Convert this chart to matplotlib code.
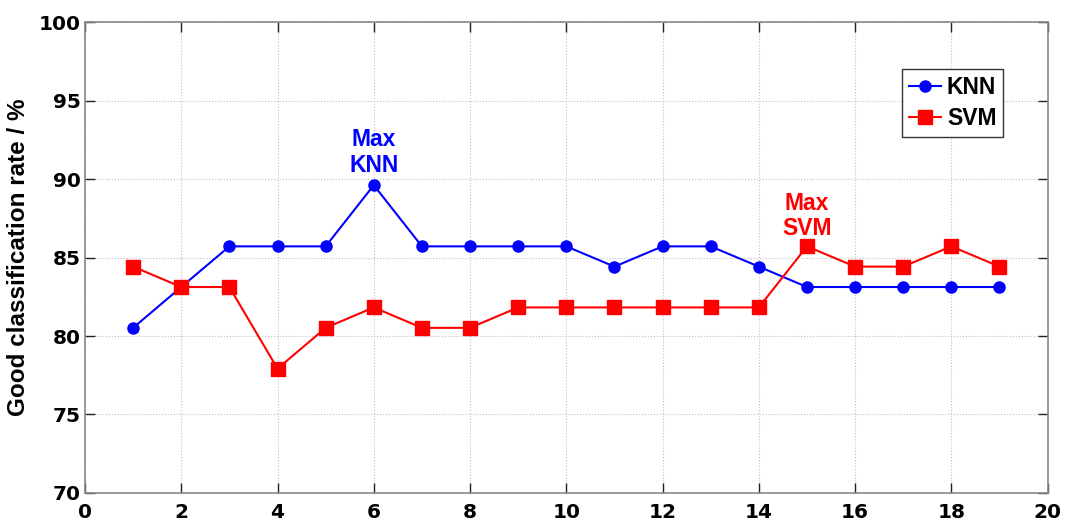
import matplotlib
matplotlib.use("Agg")
import matplotlib.pyplot as plt

plt.rcParams['font.family'] = ['Liberation Sans', 'DejaVu Sans']
plt.rcParams['font.weight'] = 'bold'

x = list(range(1, 20))
knn = [80.52, 83.12, 85.71, 85.71, 85.71, 89.61, 85.71, 85.71, 85.71, 85.71,
       84.42, 85.71, 85.71, 84.42, 83.12, 83.12, 83.12, 83.12, 83.12]
svm = [84.42, 83.12, 83.12, 77.92, 80.52, 81.82, 80.52, 80.52, 81.82, 81.82,
       81.82, 81.82, 81.82, 81.82, 85.71, 84.42, 84.42, 85.71, 84.42]
xticks = list(range(0, 21, 2))
yticks = list(range(70, 101, 5))

fig = plt.figure(figsize=(10.69, 5.25), dpi=100)
ax = fig.add_axes([0.0795, 0.061, 0.9005, 0.897])

ax.plot(x, knn, color='#0000ff', marker='o', markersize=8, linewidth=1.5, label='KNN')
ax.plot(x, svm, color='#ff0000', marker='s', markersize=10, linewidth=1.5, label='SVM')

ax.set_xlim(0, 20)
ax.set_ylim(70, 100)
ax.set_xticks(xticks)
ax.set_yticks(yticks)
ax.tick_params(direction='in', top=True, right=True, length=7, width=1, color='#222222')
ax.tick_params(axis='y', pad=3)
ax.tick_params(axis='x', pad=7)
for lab in ax.get_xticklabels() + ax.get_yticklabels():
    lab.set_fontweight('bold')
    lab.set_family('DejaVu Sans')
    lab.set_fontsize(14.5)
ax.grid(True, linestyle=':', color='#c0c0c0', linewidth=0.8)
for s in ax.spines.values():
    s.set_color('#888888')
    s.set_linewidth(1.2)

ax.set_ylabel('Good classification rate / %', fontsize=17.5, fontweight='bold', labelpad=6)

ax.text(6, 90.13, 'Max\nKNN', color='#0000ff', ha='center', va='bottom',
        fontsize=16.5, fontweight='bold', linespacing=1.15)
ax.text(15, 86.1, 'Max\nSVM', color='#ff0000', ha='center', va='bottom',
        fontsize=16.5, fontweight='bold', linespacing=1.15)

leg = ax.legend(loc='upper right', bbox_to_anchor=(0.954, 0.900), fontsize=16.5,
                frameon=True, fancybox=False, edgecolor='#333333', framealpha=1,
                handlelength=1.4, handletextpad=0.25, borderpad=0.3, labelspacing=0.35,
                borderaxespad=0.0)
leg.get_frame().set_linewidth(1.0)
for t in leg.get_texts():
    t.set_fontweight('bold')

fig.savefig('out.png', dpi=100)
